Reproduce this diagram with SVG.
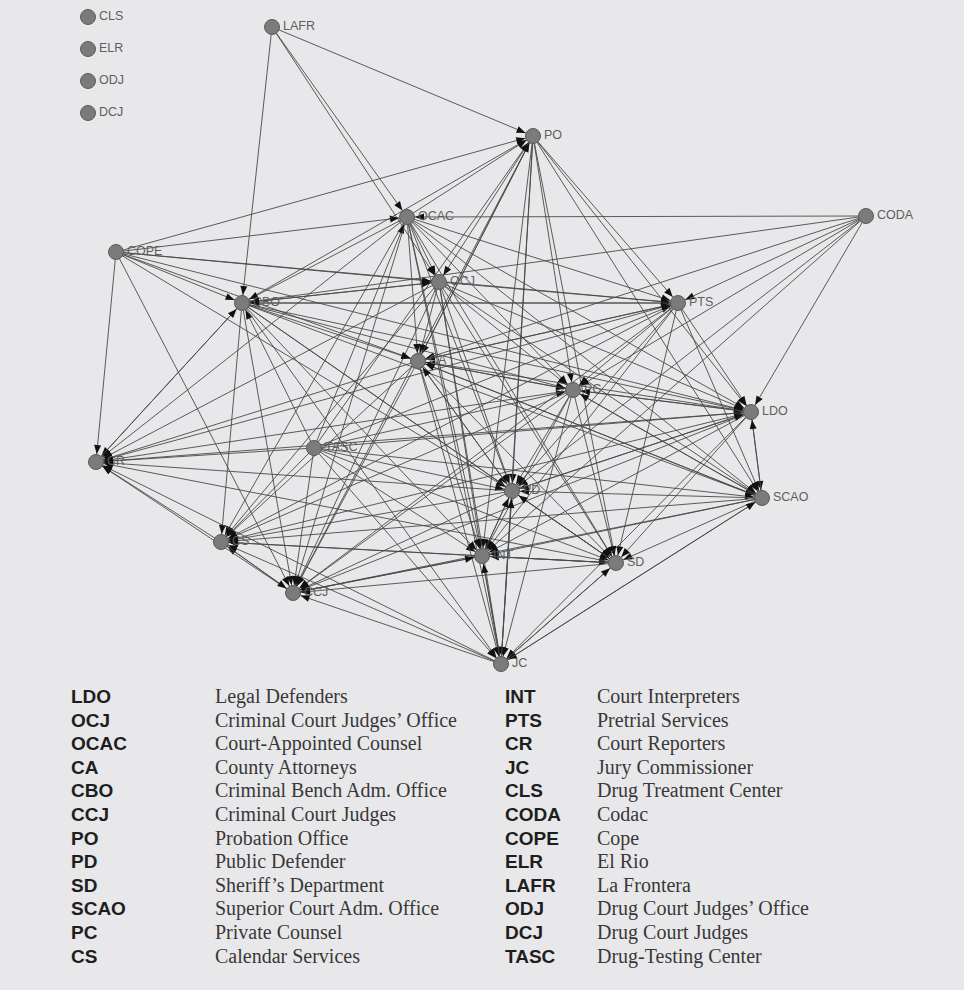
<svg xmlns="http://www.w3.org/2000/svg" width="964" height="990" viewBox="0 0 964 990">
<style>
.e{stroke:#4a4a4a;stroke-width:0.9;fill:none;marker-end:url(#ah)}
.n circle{fill:#7b7b7b;stroke:#5a5a5a;stroke-width:1}
.n text{font-family:"Liberation Sans",Arial,sans-serif;font-size:12.5px;fill:#5e5e5e}
.ab{font-family:"Liberation Sans",Arial,sans-serif;font-size:19px;font-weight:bold;fill:#1e1e1e}
.ds{font-family:"Liberation Serif","Times New Roman",serif;font-size:20px;fill:#383838}
</style>
<defs>
<marker id="ah" markerUnits="userSpaceOnUse" markerWidth="20" markerHeight="10" refX="17" refY="0" orient="auto" overflow="visible">
<path d="M0,-3.5 L9,0 L0,3.5 z" fill="#111"/>
</marker>
</defs>
<rect x="0" y="0" width="964" height="990" fill="#e8e8ea"/>
<g id="connectors">
<line class="e" x1="272" y1="27" x2="533" y2="136"/>
<line class="e" x1="272" y1="27" x2="407" y2="217"/>
<line class="e" x1="272" y1="27" x2="439" y2="282"/>
<line class="e" x1="272" y1="27" x2="242" y2="303"/>
<line class="e" x1="116" y1="252" x2="533" y2="136"/>
<line class="e" x1="116" y1="252" x2="407" y2="217"/>
<line class="e" x1="116" y1="252" x2="242" y2="303"/>
<line class="e" x1="116" y1="252" x2="96" y2="462"/>
<line class="e" x1="116" y1="252" x2="293" y2="593"/>
<line class="e" x1="116" y1="252" x2="418" y2="361"/>
<line class="e" x1="116" y1="252" x2="678" y2="303"/>
<line class="e" x1="116" y1="252" x2="751" y2="412"/>
<line class="e" x1="116" y1="252" x2="512" y2="491"/>
<line class="e" x1="116" y1="252" x2="439" y2="282"/>
<line class="e" x1="866" y1="216" x2="407" y2="217"/>
<line class="e" x1="866" y1="216" x2="678" y2="303"/>
<line class="e" x1="866" y1="216" x2="751" y2="412"/>
<line class="e" x1="866" y1="216" x2="418" y2="361"/>
<line class="e" x1="866" y1="216" x2="573" y2="390"/>
<line class="e" x1="866" y1="216" x2="512" y2="491"/>
<line class="e" x1="866" y1="216" x2="242" y2="303"/>
<line class="e" x1="866" y1="216" x2="482" y2="556"/>
<line class="e" x1="314" y1="448" x2="242" y2="303"/>
<line class="e" x1="314" y1="448" x2="96" y2="462"/>
<line class="e" x1="314" y1="448" x2="407" y2="217"/>
<line class="e" x1="314" y1="448" x2="533" y2="136"/>
<line class="e" x1="314" y1="448" x2="678" y2="303"/>
<line class="e" x1="314" y1="448" x2="573" y2="390"/>
<line class="e" x1="314" y1="448" x2="751" y2="412"/>
<line class="e" x1="314" y1="448" x2="293" y2="593"/>
<line class="e" x1="314" y1="448" x2="221" y2="542"/>
<line class="e" x1="314" y1="448" x2="482" y2="556"/>
<line class="e" x1="314" y1="448" x2="616" y2="563"/>
<line class="e" x1="314" y1="448" x2="512" y2="491"/>
<line class="e" x1="314" y1="448" x2="762" y2="498"/>
<line class="e" x1="314" y1="448" x2="501" y2="664"/>
<line class="e" x1="407" y1="217" x2="533" y2="136"/>
<line class="e" x1="533" y1="136" x2="439" y2="282"/>
<line class="e" x1="533" y1="136" x2="418" y2="361"/>
<line class="e" x1="533" y1="136" x2="678" y2="303"/>
<line class="e" x1="533" y1="136" x2="573" y2="390"/>
<line class="e" x1="533" y1="136" x2="751" y2="412"/>
<line class="e" x1="533" y1="136" x2="512" y2="491"/>
<line class="e" x1="533" y1="136" x2="616" y2="563"/>
<line class="e" x1="533" y1="136" x2="482" y2="556"/>
<line class="e" x1="533" y1="136" x2="501" y2="664"/>
<line class="e" x1="533" y1="136" x2="762" y2="498"/>
<line class="e" x1="533" y1="136" x2="293" y2="593"/>
<line class="e" x1="242" y1="303" x2="533" y2="136"/>
<line class="e" x1="418" y1="361" x2="533" y2="136"/>
<line class="e" x1="407" y1="217" x2="439" y2="282"/>
<line class="e" x1="407" y1="217" x2="242" y2="303"/>
<line class="e" x1="407" y1="217" x2="418" y2="361"/>
<line class="e" x1="407" y1="217" x2="678" y2="303"/>
<line class="e" x1="407" y1="217" x2="573" y2="390"/>
<line class="e" x1="407" y1="217" x2="751" y2="412"/>
<line class="e" x1="407" y1="217" x2="512" y2="491"/>
<line class="e" x1="407" y1="217" x2="482" y2="556"/>
<line class="e" x1="407" y1="217" x2="616" y2="563"/>
<line class="e" x1="407" y1="217" x2="293" y2="593"/>
<line class="e" x1="407" y1="217" x2="221" y2="542"/>
<line class="e" x1="407" y1="217" x2="96" y2="462"/>
<line class="e" x1="407" y1="217" x2="501" y2="664"/>
<line class="e" x1="407" y1="217" x2="762" y2="498"/>
<line class="e" x1="439" y1="282" x2="242" y2="303"/>
<line class="e" x1="439" y1="282" x2="418" y2="361"/>
<line class="e" x1="439" y1="282" x2="678" y2="303"/>
<line class="e" x1="439" y1="282" x2="573" y2="390"/>
<line class="e" x1="439" y1="282" x2="751" y2="412"/>
<line class="e" x1="439" y1="282" x2="512" y2="491"/>
<line class="e" x1="439" y1="282" x2="482" y2="556"/>
<line class="e" x1="439" y1="282" x2="616" y2="563"/>
<line class="e" x1="439" y1="282" x2="293" y2="593"/>
<line class="e" x1="439" y1="282" x2="221" y2="542"/>
<line class="e" x1="439" y1="282" x2="96" y2="462"/>
<line class="e" x1="439" y1="282" x2="501" y2="664"/>
<line class="e" x1="439" y1="282" x2="762" y2="498"/>
<line class="e" x1="242" y1="303" x2="439" y2="282"/>
<line class="e" x1="242" y1="303" x2="418" y2="361"/>
<line class="e" x1="242" y1="303" x2="678" y2="303"/>
<line class="e" x1="242" y1="303" x2="573" y2="390"/>
<line class="e" x1="242" y1="303" x2="751" y2="412"/>
<line class="e" x1="242" y1="303" x2="512" y2="491"/>
<line class="e" x1="242" y1="303" x2="482" y2="556"/>
<line class="e" x1="242" y1="303" x2="616" y2="563"/>
<line class="e" x1="242" y1="303" x2="293" y2="593"/>
<line class="e" x1="242" y1="303" x2="221" y2="542"/>
<line class="e" x1="242" y1="303" x2="96" y2="462"/>
<line class="e" x1="242" y1="303" x2="501" y2="664"/>
<line class="e" x1="242" y1="303" x2="762" y2="498"/>
<line class="e" x1="678" y1="303" x2="418" y2="361"/>
<line class="e" x1="678" y1="303" x2="573" y2="390"/>
<line class="e" x1="678" y1="303" x2="751" y2="412"/>
<line class="e" x1="678" y1="303" x2="512" y2="491"/>
<line class="e" x1="678" y1="303" x2="482" y2="556"/>
<line class="e" x1="678" y1="303" x2="616" y2="563"/>
<line class="e" x1="678" y1="303" x2="293" y2="593"/>
<line class="e" x1="678" y1="303" x2="96" y2="462"/>
<line class="e" x1="678" y1="303" x2="762" y2="498"/>
<line class="e" x1="678" y1="303" x2="242" y2="303"/>
<line class="e" x1="678" y1="303" x2="221" y2="542"/>
<line class="e" x1="418" y1="361" x2="573" y2="390"/>
<line class="e" x1="418" y1="361" x2="751" y2="412"/>
<line class="e" x1="418" y1="361" x2="512" y2="491"/>
<line class="e" x1="418" y1="361" x2="482" y2="556"/>
<line class="e" x1="418" y1="361" x2="616" y2="563"/>
<line class="e" x1="418" y1="361" x2="293" y2="593"/>
<line class="e" x1="418" y1="361" x2="221" y2="542"/>
<line class="e" x1="418" y1="361" x2="96" y2="462"/>
<line class="e" x1="418" y1="361" x2="501" y2="664"/>
<line class="e" x1="418" y1="361" x2="678" y2="303"/>
<line class="e" x1="418" y1="361" x2="762" y2="498"/>
<line class="e" x1="573" y1="390" x2="751" y2="412"/>
<line class="e" x1="573" y1="390" x2="512" y2="491"/>
<line class="e" x1="573" y1="390" x2="482" y2="556"/>
<line class="e" x1="573" y1="390" x2="616" y2="563"/>
<line class="e" x1="573" y1="390" x2="293" y2="593"/>
<line class="e" x1="573" y1="390" x2="96" y2="462"/>
<line class="e" x1="573" y1="390" x2="418" y2="361"/>
<line class="e" x1="573" y1="390" x2="221" y2="542"/>
<line class="e" x1="573" y1="390" x2="501" y2="664"/>
<line class="e" x1="573" y1="390" x2="762" y2="498"/>
<line class="e" x1="751" y1="412" x2="762" y2="498"/>
<line class="e" x1="751" y1="412" x2="512" y2="491"/>
<line class="e" x1="751" y1="412" x2="482" y2="556"/>
<line class="e" x1="751" y1="412" x2="293" y2="593"/>
<line class="e" x1="751" y1="412" x2="96" y2="462"/>
<line class="e" x1="751" y1="412" x2="221" y2="542"/>
<line class="e" x1="751" y1="412" x2="616" y2="563"/>
<line class="e" x1="751" y1="412" x2="573" y2="390"/>
<line class="e" x1="751" y1="412" x2="501" y2="664"/>
<line class="e" x1="762" y1="498" x2="751" y2="412"/>
<line class="e" x1="762" y1="498" x2="512" y2="491"/>
<line class="e" x1="762" y1="498" x2="482" y2="556"/>
<line class="e" x1="762" y1="498" x2="616" y2="563"/>
<line class="e" x1="762" y1="498" x2="293" y2="593"/>
<line class="e" x1="762" y1="498" x2="221" y2="542"/>
<line class="e" x1="762" y1="498" x2="501" y2="664"/>
<line class="e" x1="762" y1="498" x2="418" y2="361"/>
<line class="e" x1="762" y1="498" x2="573" y2="390"/>
<line class="e" x1="512" y1="491" x2="482" y2="556"/>
<line class="e" x1="512" y1="491" x2="616" y2="563"/>
<line class="e" x1="512" y1="491" x2="293" y2="593"/>
<line class="e" x1="512" y1="491" x2="96" y2="462"/>
<line class="e" x1="512" y1="491" x2="221" y2="542"/>
<line class="e" x1="512" y1="491" x2="418" y2="361"/>
<line class="e" x1="512" y1="491" x2="751" y2="412"/>
<line class="e" x1="512" y1="491" x2="501" y2="664"/>
<line class="e" x1="482" y1="556" x2="293" y2="593"/>
<line class="e" x1="482" y1="556" x2="221" y2="542"/>
<line class="e" x1="482" y1="556" x2="512" y2="491"/>
<line class="e" x1="482" y1="556" x2="616" y2="563"/>
<line class="e" x1="482" y1="556" x2="501" y2="664"/>
<line class="e" x1="616" y1="563" x2="293" y2="593"/>
<line class="e" x1="616" y1="563" x2="482" y2="556"/>
<line class="e" x1="616" y1="563" x2="512" y2="491"/>
<line class="e" x1="616" y1="563" x2="96" y2="462"/>
<line class="e" x1="616" y1="563" x2="221" y2="542"/>
<line class="e" x1="616" y1="563" x2="501" y2="664"/>
<line class="e" x1="293" y1="593" x2="221" y2="542"/>
<line class="e" x1="293" y1="593" x2="96" y2="462"/>
<line class="e" x1="293" y1="593" x2="482" y2="556"/>
<line class="e" x1="221" y1="542" x2="96" y2="462"/>
<line class="e" x1="221" y1="542" x2="293" y2="593"/>
<line class="e" x1="501" y1="664" x2="293" y2="593"/>
<line class="e" x1="501" y1="664" x2="96" y2="462"/>
<line class="e" x1="501" y1="664" x2="482" y2="556"/>
<line class="e" x1="501" y1="664" x2="616" y2="563"/>
<line class="e" x1="501" y1="664" x2="512" y2="491"/>
<line class="e" x1="501" y1="664" x2="221" y2="542"/>
<line class="e" x1="501" y1="664" x2="762" y2="498"/>
<line class="e" x1="96" y1="462" x2="242" y2="303"/>
</g>
<g id="n-CLS" class="n"><circle cx="88" cy="17" r="7.5"/><text x="99" y="20">CLS</text></g>
<g id="n-ELR" class="n"><circle cx="88" cy="49" r="7.5"/><text x="99" y="52">ELR</text></g>
<g id="n-ODJ" class="n"><circle cx="88" cy="81" r="7.5"/><text x="99" y="84">ODJ</text></g>
<g id="n-DCJ" class="n"><circle cx="88" cy="113" r="7.5"/><text x="99" y="116">DCJ</text></g>
<g id="n-LAFR" class="n"><circle cx="272" cy="27" r="7.5"/><text x="283" y="30">LAFR</text></g>
<g id="n-PO" class="n"><circle cx="533" cy="136" r="7.5"/><text x="544" y="139">PO</text></g>
<g id="n-OCAC" class="n"><circle cx="407" cy="217" r="7.5"/><text x="418" y="220">OCAC</text></g>
<g id="n-CODA" class="n"><circle cx="866" cy="216" r="7.5"/><text x="877" y="219">CODA</text></g>
<g id="n-COPE" class="n"><circle cx="116" cy="252" r="7.5"/><text x="127" y="255">COPE</text></g>
<g id="n-OCJ" class="n"><circle cx="439" cy="282" r="7.5"/><text x="450" y="285">OCJ</text></g>
<g id="n-CBO" class="n"><circle cx="242" cy="303" r="7.5"/><text x="253" y="306">CBO</text></g>
<g id="n-PTS" class="n"><circle cx="678" cy="303" r="7.5"/><text x="689" y="306">PTS</text></g>
<g id="n-CA" class="n"><circle cx="418" cy="361" r="7.5"/><text x="429" y="364">CA</text></g>
<g id="n-PC" class="n"><circle cx="573" cy="390" r="7.5"/><text x="584" y="393">PC</text></g>
<g id="n-LDO" class="n"><circle cx="751" cy="412" r="7.5"/><text x="762" y="415">LDO</text></g>
<g id="n-TASC" class="n"><circle cx="314" cy="448" r="7.5"/><text x="325" y="451">TASC</text></g>
<g id="n-CR" class="n"><circle cx="96" cy="462" r="7.5"/><text x="107" y="465">CR</text></g>
<g id="n-PD" class="n"><circle cx="512" cy="491" r="7.5"/><text x="523" y="494">PD</text></g>
<g id="n-SCAO" class="n"><circle cx="762" cy="498" r="7.5"/><text x="773" y="501">SCAO</text></g>
<g id="n-CS" class="n"><circle cx="221" cy="542" r="7.5"/><text x="232" y="545">CS</text></g>
<g id="n-INT" class="n"><circle cx="482" cy="556" r="7.5"/><text x="493" y="559">INT</text></g>
<g id="n-SD" class="n"><circle cx="616" cy="563" r="7.5"/><text x="627" y="566">SD</text></g>
<g id="n-CCJ" class="n"><circle cx="293" cy="593" r="7.5"/><text x="304" y="596">CCJ</text></g>
<g id="n-JC" class="n"><circle cx="501" cy="664" r="7.5"/><text x="512" y="667">JC</text></g>
<g id="legend">
<text class="ab" x="71" y="703">LDO</text><text class="ds" x="215" y="703">Legal Defenders</text>
<text class="ab" x="71" y="726.6">OCJ</text><text class="ds" x="215" y="726.6">Criminal Court Judges’ Office</text>
<text class="ab" x="71" y="750.2">OCAC</text><text class="ds" x="215" y="750.2">Court-Appointed Counsel</text>
<text class="ab" x="71" y="773.8">CA</text><text class="ds" x="215" y="773.8">County Attorneys</text>
<text class="ab" x="71" y="797.4">CBO</text><text class="ds" x="215" y="797.4">Criminal Bench Adm. Office</text>
<text class="ab" x="71" y="821">CCJ</text><text class="ds" x="215" y="821">Criminal Court Judges</text>
<text class="ab" x="71" y="844.6">PO</text><text class="ds" x="215" y="844.6">Probation Office</text>
<text class="ab" x="71" y="868.2">PD</text><text class="ds" x="215" y="868.2">Public Defender</text>
<text class="ab" x="71" y="891.8">SD</text><text class="ds" x="215" y="891.8">Sheriff’s Department</text>
<text class="ab" x="71" y="915.4">SCAO</text><text class="ds" x="215" y="915.4">Superior Court Adm. Office</text>
<text class="ab" x="71" y="939">PC</text><text class="ds" x="215" y="939">Private Counsel</text>
<text class="ab" x="71" y="962.6">CS</text><text class="ds" x="215" y="962.6">Calendar Services</text>
<text class="ab" x="505" y="703">INT</text><text class="ds" x="597" y="703">Court Interpreters</text>
<text class="ab" x="505" y="726.6">PTS</text><text class="ds" x="597" y="726.6">Pretrial Services</text>
<text class="ab" x="505" y="750.2">CR</text><text class="ds" x="597" y="750.2">Court Reporters</text>
<text class="ab" x="505" y="773.8">JC</text><text class="ds" x="597" y="773.8">Jury Commissioner</text>
<text class="ab" x="505" y="797.4">CLS</text><text class="ds" x="597" y="797.4">Drug Treatment Center</text>
<text class="ab" x="505" y="821">CODA</text><text class="ds" x="597" y="821">Codac</text>
<text class="ab" x="505" y="844.6">COPE</text><text class="ds" x="597" y="844.6">Cope</text>
<text class="ab" x="505" y="868.2">ELR</text><text class="ds" x="597" y="868.2">El Rio</text>
<text class="ab" x="505" y="891.8">LAFR</text><text class="ds" x="597" y="891.8">La Frontera</text>
<text class="ab" x="505" y="915.4">ODJ</text><text class="ds" x="597" y="915.4">Drug Court Judges’ Office</text>
<text class="ab" x="505" y="939">DCJ</text><text class="ds" x="597" y="939">Drug Court Judges</text>
<text class="ab" x="505" y="962.6">TASC</text><text class="ds" x="597" y="962.6">Drug-Testing Center</text>
</g>
</svg>
